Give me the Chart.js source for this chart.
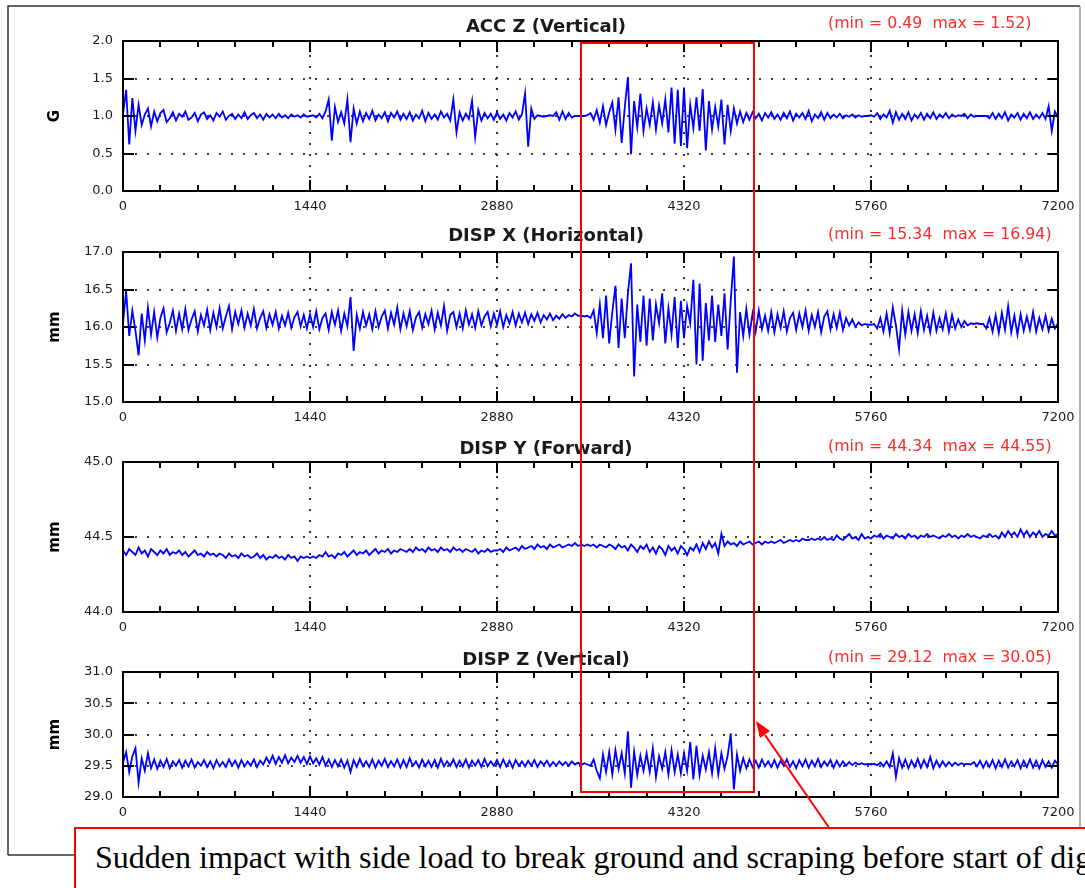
<!DOCTYPE html>
<html>
<head>
<meta charset="utf-8">
<title>Sensor traces</title>
<script src="https://cdn.jsdelivr.net/npm/chart.js@4.4.0/dist/chart.umd.min.js"></script>
<style>
  html, body { margin: 0; padding: 0; background: #fff; }
  body { width: 1085px; height: 888px; position: relative; overflow: hidden; }
  canvas.panel { position: absolute; left: 0; }
  #overlay { position: absolute; left: 0; top: 0; }
</style>
</head>
<body>
<canvas class="panel" id="c1"></canvas>
<canvas class="panel" id="c2"></canvas>
<canvas class="panel" id="c3"></canvas>
<canvas class="panel" id="c4"></canvas>

<svg id="overlay" width="1085" height="888">
  <path d="M8,855 L8,6 L1080,6" fill="none" stroke="#333" stroke-width="1.5"/>
  <path d="M1080,6 L1080,830" fill="none" stroke="#999" stroke-width="1.5"/>
  <path d="M8,855 L76,855" fill="none" stroke="#333" stroke-width="1.5"/>
  <rect x="581" y="43" width="173" height="749" fill="none" stroke="#ff0000" stroke-width="2"/>
  <rect x="75" y="828" width="1030" height="80" fill="#fff" stroke="#ff0000" stroke-width="2"/>
  <text x="95" y="868" font-family="Liberation Serif, Times New Roman, serif" font-size="32" fill="#000">Sudden impact with side load to break ground and scraping before start of dig</text>
  <line x1="830" y1="829" x2="765" y2="735" stroke="#ff0000" stroke-width="2"/>
  <polygon points="756,721 770,731 760,738" fill="#ff0000"/>
</svg>

<script>
// sample spacing of the traces (time units on the x axis)
const SAMPLE_STEP = 24;
const X_TICKS = [0, 1440, 2880, 4320, 5760, 7200];
const X_MINOR = 288;

// ACC Z (Vertical), G
const ACC_Z = [
  1.02, 1.35, 0.62, 1.24, 0.80, 1.15, 0.88, 1.02, 1.10, 0.86,
  1.06, 0.93, 1.04, 1.08, 0.92, 0.97, 1.05, 0.94, 1.03, 0.99,
  1.06, 0.95, 0.98, 1.04, 0.93, 1.02, 1.05, 0.96, 1.01, 0.94,
  1.04, 0.99, 1.06, 0.95, 1.00, 1.03, 0.96, 1.02, 0.97, 1.05,
  0.96, 1.01, 1.04, 0.97, 1.02, 0.95, 1.03, 0.98, 1.02, 0.97,
  1.03, 0.98, 1.01, 0.97, 1.02, 0.99, 1.01, 0.98, 1.02, 0.99,
  1.00, 1.01, 0.98, 1.03, 0.97, 1.06, 1.22, 0.67, 1.12, 0.92,
  1.05, 0.90, 1.22, 0.65, 1.10, 0.90, 1.06, 0.93, 1.04, 0.96,
  1.07, 0.94, 1.02, 0.97, 1.05, 0.93, 1.04, 0.98, 1.06, 0.95,
  1.03, 0.96, 1.05, 0.94, 1.02, 0.97, 1.07, 0.93, 1.04, 0.96,
  1.02, 0.95, 1.06, 0.98, 1.03, 0.94, 1.22, 0.78, 1.05, 0.94,
  1.03, 0.96, 1.20, 0.72, 1.08, 0.94, 1.04, 0.97, 1.03, 0.95,
  1.05, 0.96, 1.02, 0.94, 1.04, 0.98, 1.06, 0.95, 1.02, 1.30,
  0.59, 1.10, 0.96, 1.01, 1.00, 0.99, 1.00, 1.01, 1.00, 1.05,
  0.95, 1.06, 0.96, 1.04, 0.98, 1.00, 1.00, 1.00, 1.00, 1.01,
  1.04, 0.95, 1.08, 0.91, 1.13, 0.88, 1.05, 1.18, 0.82, 1.25,
  0.64, 1.12, 1.52, 0.49, 1.20, 0.85, 1.30, 0.80, 1.10, 0.88,
  1.18, 0.82, 1.14, 0.90, 1.22, 0.78, 1.38, 0.63, 1.35, 0.60,
  1.38, 0.57, 1.15, 0.84, 1.25, 0.80, 1.36, 0.54, 1.20, 0.82,
  1.12, 0.86, 1.22, 0.62, 1.15, 0.80, 1.10, 0.90, 1.06, 0.92,
  1.04, 0.95, 1.05, 0.97, 1.03, 0.94, 1.04, 0.98, 1.05, 0.96,
  1.02, 0.95, 1.04, 0.97, 1.06, 0.94, 1.03, 0.98, 1.04, 0.96,
  1.07, 0.93, 1.02, 0.97, 1.05, 0.95, 1.04, 0.97, 1.02, 0.98,
  1.03, 0.97, 1.01, 0.99, 1.02, 0.98, 1.01, 0.99, 1.00, 1.00,
  1.01, 0.99, 1.04, 0.96, 1.02, 0.98, 1.07, 0.91, 1.05, 0.95,
  1.03, 0.96, 1.05, 0.94, 1.02, 0.97, 1.04, 0.95, 1.03, 0.97,
  1.05, 0.96, 1.02, 0.98, 1.04, 0.97, 1.02, 0.99, 1.01, 1.00,
  1.03, 0.97, 1.02, 0.99, 1.00, 1.00, 1.00, 1.00, 0.97, 1.04,
  0.96, 1.03, 0.97, 1.05, 0.94, 1.02, 0.98, 1.04, 0.95, 1.03,
  0.97, 1.05, 0.96, 1.02, 0.97, 1.04, 0.96, 1.13, 0.80, 1.06,
  0.98
];

// DISP X (Horizontal), mm
const DISP_X = [
  16.05, 16.48, 15.88, 16.22, 15.95, 15.62, 16.18, 15.82, 16.26, 15.90,
  16.20, 15.86, 16.12, 16.25, 15.93, 16.05, 16.22, 15.95, 16.18, 15.97,
  16.24, 15.96, 16.10, 16.21, 15.94, 16.16, 16.02, 16.23, 15.96, 16.19,
  16.00, 16.25, 15.98, 16.14, 16.28, 15.97, 16.20, 16.04, 16.22, 15.99,
  16.18, 16.02, 16.24, 15.98, 16.12, 16.21, 15.99, 16.17, 16.03, 16.20,
  15.98, 16.15, 16.02, 16.19, 15.99, 16.13, 16.20, 16.01, 16.16, 15.98,
  16.17, 16.00, 16.21, 15.97, 16.12, 16.18, 15.96, 16.20, 16.03, 16.22,
  15.95, 16.18, 16.01, 16.40, 15.68, 16.16, 15.98, 16.20, 16.02, 16.17,
  15.97, 16.21, 16.00, 16.14, 16.22, 15.98, 16.19, 16.03, 16.26, 15.97,
  16.18, 16.01, 16.21, 15.96, 16.13, 16.20, 15.99, 16.17, 16.04, 16.22,
  15.97, 16.19, 16.02, 16.28, 15.95, 16.16, 16.20, 16.00, 16.18, 15.98,
  16.22, 16.03, 16.17, 15.99, 16.21, 16.02, 16.14, 16.20, 16.01, 16.18,
  16.03, 16.21, 16.00, 16.16, 16.05, 16.20, 16.02, 16.18, 16.06, 16.19,
  16.04, 16.17, 16.08, 16.19, 16.06, 16.16, 16.10, 16.18, 16.09, 16.15,
  16.11, 16.17, 16.12, 16.16, 16.14, 16.18, 16.15, 16.15, 16.14, 16.15,
  16.12, 16.22, 15.92, 16.30, 15.85, 16.42, 15.78, 16.20, 16.55, 15.72,
  16.38, 15.85, 16.45, 16.85, 15.34, 16.30, 15.80, 16.42, 15.75, 16.38,
  15.82, 16.30, 16.05, 16.45, 15.78, 16.25, 15.90, 16.40, 15.72, 16.35,
  15.85, 16.28, 16.05, 16.63, 15.50, 16.58, 15.55, 16.32, 15.82, 16.42,
  15.80, 16.30, 15.88, 16.45, 15.70, 16.35, 16.94, 15.39, 16.20, 15.88,
  16.24, 15.90, 16.18, 15.94, 16.22, 15.97, 16.15, 15.95, 16.20, 15.93,
  16.17, 15.99, 16.21, 15.94, 16.12, 16.19, 15.96, 16.18, 16.00, 16.22,
  15.95, 16.16, 16.00, 16.20, 15.93, 16.14, 16.21, 15.97, 16.17, 15.99,
  16.19, 15.96, 16.12, 16.02, 16.10, 16.00, 16.06, 16.02, 16.04, 16.03,
  16.03, 16.04, 15.98, 16.12, 15.94, 16.18, 15.92, 16.26, 16.02, 15.70,
  16.22, 15.90, 16.20, 15.95, 16.17, 15.92, 16.21, 15.96, 16.15, 15.93,
  16.19, 15.95, 16.12, 15.97, 16.18, 15.94, 16.16, 15.98, 16.10, 16.00,
  16.08, 16.02, 16.05, 16.04, 16.05, 16.04, 16.04, 15.98, 16.12, 15.94,
  16.16, 15.92, 16.19, 15.96, 16.28, 15.93, 16.15, 15.90, 16.17, 15.95,
  16.14, 15.96, 16.20, 15.94, 16.12, 15.97, 16.15, 15.95, 16.11, 15.98,
  16.05
];

// DISP Y (Forward), mm
const DISP_Y = [
  44.41, 44.38, 44.42, 44.40, 44.38, 44.43, 44.39, 44.41, 44.37, 44.42,
  44.40, 44.38, 44.41, 44.39, 44.42, 44.38, 44.40, 44.39, 44.41, 44.38,
  44.40, 44.37, 44.39, 44.41, 44.38, 44.39, 44.37, 44.40, 44.38, 44.39,
  44.37, 44.39, 44.38, 44.36, 44.39, 44.37, 44.38, 44.36, 44.39, 44.37,
  44.38, 44.36, 44.37, 44.39, 44.36, 44.38, 44.35, 44.37, 44.36, 44.38,
  44.36, 44.37, 44.35, 44.38, 44.36, 44.37, 44.34, 44.37, 44.36, 44.37,
  44.36, 44.37, 44.36, 44.38, 44.37, 44.40, 44.37, 44.38, 44.36, 44.39,
  44.38, 44.40, 44.37, 44.39, 44.41, 44.38, 44.40, 44.39, 44.41, 44.38,
  44.40, 44.42, 44.39, 44.41, 44.40, 44.42, 44.39, 44.41, 44.40, 44.42,
  44.41, 44.40, 44.42, 44.40, 44.43, 44.41, 44.42, 44.40, 44.43, 44.41,
  44.42, 44.40, 44.43, 44.41, 44.42, 44.40, 44.43, 44.41, 44.42, 44.40,
  44.42, 44.41, 44.40, 44.42, 44.39, 44.41, 44.40, 44.42, 44.40, 44.41,
  44.41, 44.42, 44.40, 44.43, 44.41, 44.42, 44.43, 44.41, 44.44, 44.42,
  44.43, 44.44, 44.42, 44.45, 44.43, 44.44, 44.42, 44.45, 44.43, 44.44,
  44.45, 44.43, 44.44, 44.45, 44.44, 44.46, 44.44, 44.45, 44.44, 44.45,
  44.44, 44.45, 44.43, 44.45, 44.44, 44.43, 44.45, 44.44, 44.42, 44.45,
  44.43, 44.44, 44.41, 44.45, 44.43, 44.40, 44.44, 44.42, 44.45, 44.40,
  44.43, 44.39, 44.44, 44.42, 44.38, 44.44, 44.41, 44.43, 44.39, 44.44,
  44.42, 44.38, 44.43, 44.41, 44.45, 44.40, 44.46, 44.42, 44.47, 44.43,
  44.46, 44.39, 44.52, 44.44, 44.47, 44.45, 44.46, 44.44, 44.47, 44.45,
  44.46, 44.47, 44.45, 44.46, 44.47, 44.45, 44.47, 44.46, 44.47, 44.46,
  44.47, 44.48, 44.46, 44.47, 44.48, 44.47, 44.48, 44.47, 44.49, 44.48,
  44.48, 44.49, 44.48, 44.49, 44.48, 44.50, 44.48, 44.49, 44.48, 44.51,
  44.49, 44.48, 44.50, 44.52, 44.49, 44.50, 44.48, 44.52, 44.49, 44.50,
  44.49, 44.51, 44.50, 44.52, 44.49, 44.51, 44.50, 44.49, 44.52, 44.50,
  44.51, 44.49, 44.52, 44.50, 44.51, 44.49, 44.51, 44.50, 44.52, 44.50,
  44.51, 44.50, 44.49, 44.51, 44.50, 44.52, 44.50, 44.51, 44.49, 44.51,
  44.50, 44.52, 44.50, 44.51, 44.50, 44.49, 44.51, 44.50, 44.52, 44.50,
  44.51, 44.49, 44.53, 44.50, 44.54, 44.51, 44.53, 44.50, 44.55, 44.51,
  44.54, 44.50, 44.53, 44.51, 44.54, 44.50, 44.52, 44.51, 44.54, 44.51,
  44.52
];

// DISP Z (Vertical), mm
const DISP_Z = [
  29.55, 29.72, 29.40, 29.65, 29.78, 29.23, 29.62, 29.42, 29.70, 29.46,
  29.60, 29.45, 29.58, 29.48, 29.61, 29.46, 29.57, 29.50, 29.59, 29.47,
  29.58, 29.49, 29.60, 29.47, 29.56, 29.50, 29.59, 29.48, 29.57, 29.46,
  29.59, 29.49, 29.56, 29.48, 29.60, 29.50, 29.58, 29.47, 29.59, 29.49,
  29.57, 29.50, 29.60, 29.48, 29.58, 29.52, 29.63, 29.54, 29.66, 29.53,
  29.64, 29.55, 29.67, 29.54, 29.63, 29.56, 29.66, 29.55, 29.64, 29.53,
  29.65, 29.54, 29.62, 29.52, 29.64, 29.50, 29.60, 29.48, 29.59, 29.49,
  29.60, 29.47, 29.58, 29.40, 29.59, 29.48, 29.61, 29.49, 29.57, 29.48,
  29.60, 29.47, 29.58, 29.50, 29.61, 29.48, 29.57, 29.49, 29.60, 29.47,
  29.59, 29.48, 29.62, 29.50, 29.57, 29.47, 29.60, 29.49, 29.58, 29.48,
  29.59, 29.47, 29.61, 29.49, 29.57, 29.50, 29.60, 29.48, 29.58, 29.49,
  29.60, 29.47, 29.58, 29.50, 29.59, 29.48, 29.61, 29.49, 29.57, 29.50,
  29.59, 29.48, 29.60, 29.49, 29.58, 29.47, 29.59, 29.50, 29.57, 29.49,
  29.58, 29.50, 29.59, 29.48, 29.57, 29.51, 29.58, 29.49, 29.56, 29.50,
  29.57, 29.51, 29.56, 29.50, 29.57, 29.52, 29.55, 29.51, 29.54, 29.52,
  29.50, 29.60, 29.42, 29.30, 29.68, 29.40, 29.72, 29.36, 29.75, 29.45,
  29.70, 29.38, 30.05, 29.15, 29.72, 29.35, 29.66, 29.42, 29.70, 29.40,
  29.78, 29.32, 29.65, 29.45, 29.72, 29.36, 29.75, 29.40, 29.68, 29.38,
  29.70, 29.42, 29.88, 29.28, 29.82, 29.35, 29.66, 29.44, 29.72, 29.38,
  29.78, 29.36, 29.70, 29.45, 29.66, 30.02, 29.12, 29.68, 29.42, 29.62,
  29.46, 29.60, 29.48, 29.58, 29.47, 29.60, 29.49, 29.57, 29.48, 29.59,
  29.47, 29.58, 29.50, 29.60, 29.48, 29.57, 29.46, 29.59, 29.49, 29.60,
  29.47, 29.58, 29.49, 29.61, 29.48, 29.57, 29.50, 29.59, 29.47, 29.58,
  29.49, 29.57, 29.50, 29.56, 29.51, 29.55, 29.52, 29.54, 29.52, 29.53,
  29.52, 29.53, 29.51, 29.55, 29.49, 29.57, 29.48, 29.70, 29.32, 29.62,
  29.47, 29.60, 29.46, 29.58, 29.48, 29.61, 29.47, 29.59, 29.48, 29.64,
  29.46, 29.58, 29.48, 29.57, 29.49, 29.56, 29.50, 29.55, 29.51, 29.54,
  29.52, 29.53, 29.52, 29.56, 29.49, 29.58, 29.47, 29.57, 29.48, 29.59,
  29.46, 29.58, 29.48, 29.60, 29.47, 29.57, 29.49, 29.59, 29.46, 29.58,
  29.48, 29.60, 29.47, 29.58, 29.46, 29.59, 29.48, 29.57, 29.47, 29.58,
  29.52
];

const PANELS = [
  { id: 'c1', top: 41,  bottom: 191, min: 0,  max: 2,  values: ACC_Z,
    title: 'ACC Z (Vertical)',    range: '(min = 0.49  max = 1.52)',   unit: 'G',  titleDy: -14, rangeDy: -17 },
  { id: 'c2', top: 252, bottom: 402, min: 15, max: 17, values: DISP_X,
    title: 'DISP X (Horizontal)', range: '(min = 15.34  max = 16.94)', unit: 'mm', titleDy: -16, rangeDy: -17 },
  { id: 'c3', top: 462, bottom: 612, min: 44, max: 45, values: DISP_Y,
    title: 'DISP Y (Forward)',    range: '(min = 44.34  max = 44.55)', unit: 'mm', titleDy: -13, rangeDy: -15 },
  { id: 'c4', top: 672, bottom: 797, min: 29, max: 31, values: DISP_Z,
    title: 'DISP Z (Vertical)',   range: '(min = 29.12  max = 30.05)', unit: 'mm', titleDy: -12, rangeDy: -14 }
];

const PAD_TOP = 40;
const X_AXIS_H = 25;
const Y_AXIS_W = 50;
const PLOT_LEFT = 123;
const PLOT_RIGHT = 1058;

// dotted grid underneath, frame + inward ticks + titles on top
const panelDecor = {
  id: 'panelDecor',
  beforeDatasetsDraw(chart, args, opts) {
    const { ctx, chartArea: a, scales: { x, y } } = chart;
    ctx.save();
    ctx.strokeStyle = '#000';
    ctx.lineWidth = 1.6;
    ctx.setLineDash([2, 10]);
    y.ticks.forEach(t => {
      if (t.value <= y.min || t.value >= y.max) return;
      const py = Math.round(y.getPixelForValue(t.value));
      ctx.beginPath();
      ctx.moveTo(a.left + 12, py);
      ctx.lineTo(a.right - 10, py);
      ctx.stroke();
    });
    ctx.setLineDash([2, 9]);
    x.ticks.forEach(t => {
      if (t.value <= x.min || t.value >= x.max) return;
      const px = Math.round(x.getPixelForValue(t.value));
      ctx.beginPath();
      ctx.moveTo(px, a.top + 14);
      ctx.lineTo(px, a.bottom - 12);
      ctx.stroke();
    });
    ctx.restore();
  },
  afterDatasetsDraw(chart, args, opts) {
    const { ctx, chartArea: a, scales: { x, y } } = chart;
    ctx.save();
    ctx.strokeStyle = '#000';
    ctx.lineWidth = 2;
    ctx.strokeRect(a.left, a.top, a.right - a.left, a.bottom - a.top);

    // x ticks, top and bottom, pointing in
    for (let t = x.min; t <= x.max; t += X_MINOR) {
      const px = Math.round(x.getPixelForValue(t));
      const len = (t % 1440 === 0) ? 11 : 6;
      ctx.beginPath();
      ctx.moveTo(px, a.top); ctx.lineTo(px, a.top + len);
      ctx.moveTo(px, a.bottom); ctx.lineTo(px, a.bottom - len);
      ctx.stroke();
    }
    // y ticks, left and right
    y.ticks.forEach(t => {
      const py = Math.round(y.getPixelForValue(t.value));
      ctx.beginPath();
      ctx.moveTo(a.left, py); ctx.lineTo(a.left + 11, py);
      ctx.moveTo(a.right, py); ctx.lineTo(a.right - 10, py);
      ctx.stroke();
    });

    ctx.fillStyle = '#1a1a1a';
    ctx.font = 'bold 18px "DejaVu Sans"';
    ctx.textAlign = 'center';
    ctx.textBaseline = 'middle';
    ctx.fillText(opts.title, 546, a.top + opts.titleDy);

    ctx.fillStyle = '#ff2a2a';
    ctx.font = '15.8px "DejaVu Sans"';
    ctx.textAlign = 'left';
    ctx.fillText(opts.range, 828, a.top + opts.rangeDy);

    ctx.fillStyle = '#000';
    ctx.font = 'bold 15px "DejaVu Sans"';
    ctx.translate(55, (a.top + a.bottom) / 2);
    ctx.rotate(-Math.PI / 2);
    ctx.textAlign = 'center';
    ctx.fillText(opts.unit, 0, 0);
    ctx.restore();
  }
};

const tickFont = { family: 'DejaVu Sans', size: 13 };

PANELS.forEach(p => {
  const canvas = document.getElementById(p.id);
  const h = (p.bottom - p.top) + PAD_TOP + X_AXIS_H;
  canvas.width = 1085;
  canvas.height = h;
  canvas.style.top = (p.top - PAD_TOP) + 'px';

  new Chart(canvas.getContext('2d'), {
    type: 'line',
    data: {
      datasets: [{
        data: p.values.map((v, i) => ({ x: i * SAMPLE_STEP, y: v })),
        borderColor: '#0000ff',
        borderWidth: 1.8,
        pointRadius: 0,
        tension: 0,
        fill: false
      }]
    },
    options: {
      responsive: false,
      animation: false,
      events: [],
      layout: { padding: { top: PAD_TOP, left: PLOT_LEFT - Y_AXIS_W, right: 1085 - PLOT_RIGHT, bottom: 0 } },
      plugins: {
        legend: { display: false },
        tooltip: { enabled: false },
        panelDecor: { title: p.title, range: p.range, unit: p.unit, titleDy: p.titleDy, rangeDy: p.rangeDy }
      },
      scales: {
        x: {
          type: 'linear',
          min: 0, max: 7200,
          afterBuildTicks: s => { s.ticks = X_TICKS.map(v => ({ value: v })); },
          ticks: { callback: v => String(v), color: '#1a1a1a', font: tickFont, padding: 8, maxRotation: 0, autoSkip: false },
          grid: { display: false, drawTicks: false },
          border: { display: false },
          afterFit: s => { s.height = X_AXIS_H; }
        },
        y: {
          min: p.min, max: p.max,
          ticks: { stepSize: 0.5, callback: v => Number(v).toFixed(1), color: '#1a1a1a', font: tickFont, padding: 10 },
          grid: { display: false, drawTicks: false },
          border: { display: false },
          afterFit: s => { s.width = Y_AXIS_W; }
        }
      }
    },
    plugins: [panelDecor]
  });
});
</script>
</body>
</html>
